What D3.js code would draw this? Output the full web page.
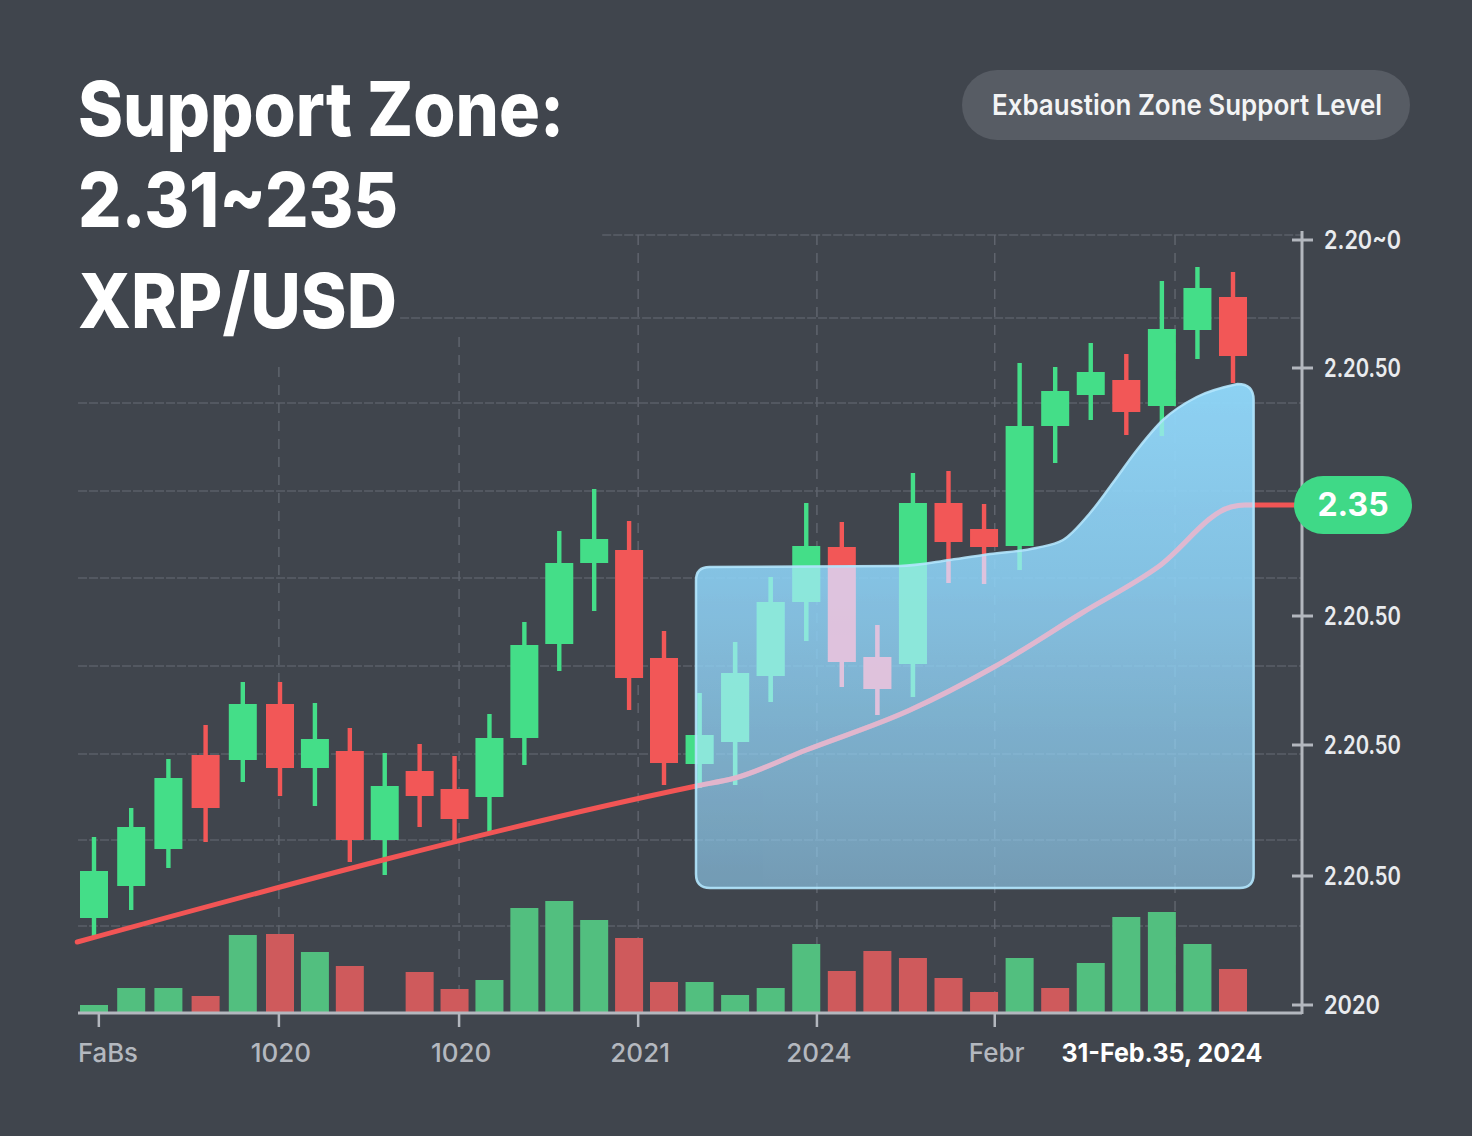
<!DOCTYPE html>
<html><head><meta charset="utf-8">
<script src="https://cdn.jsdelivr.net/npm/d3@7"></script>
<style>
html,body{margin:0;padding:0;background:#40454d;}
svg{display:block;}
text{font-family:Inter,"Noto Sans",sans-serif;}
</style></head><body>
<svg id="chart" width="1472" height="1136"></svg>
<script>
// ---------- data ----------
const titleLines = ["Support Zone:", "2.31~235", "XRP/USD"];
const badgeLabel = "Exbaustion Zone Support Level";
const priceTagLabel = "2.35";
const priceTagValue = 2.35;

const candleOpen  = [2.1435,2.1595,2.178,2.225,2.2225,2.2505,2.2185,2.227,2.1825,2.217,2.208,2.204,2.2335,2.2805,2.321,2.3275,2.2735,2.2205,2.2315,2.2645,2.3015,2.329,2.274,2.2705,2.351,2.338,2.3295,2.3895,2.405,2.4125,2.3995,2.4375,2.454];
const candleClose = [2.167,2.189,2.2135,2.1985,2.2505,2.2185,2.233,2.1825,2.2095,2.2045,2.193,2.2335,2.28,2.321,2.333,2.2635,2.221,2.235,2.266,2.3015,2.3295,2.2715,2.258,2.351,2.3315,2.329,2.3895,2.407,2.4165,2.3965,2.438,2.4585,2.4245];
const candleHigh  = [2.184,2.1985,2.223,2.24,2.2615,2.2615,2.251,2.2385,2.226,2.2305,2.2245,2.2455,2.2915,2.337,2.358,2.342,2.287,2.256,2.2815,2.314,2.351,2.3415,2.29,2.366,2.367,2.3505,2.421,2.419,2.431,2.4255,2.462,2.469,2.4665];
const candleLow   = [2.134,2.1475,2.1685,2.1815,2.2115,2.2045,2.1995,2.1715,2.165,2.189,2.1805,2.186,2.22,2.267,2.297,2.2475,2.21,2.2085,2.21,2.2515,2.282,2.259,2.245,2.254,2.311,2.3105,2.3175,2.371,2.3925,2.385,2.3845,2.423,2.411];

const volumes  = [7,24,24,16,77,78,60,46,0,40,23,32,104,111,92,74,30,30,17,24,68,41,61,54,34,20,54,24,49,95,100,68,43];
const volumeUp = [1,1,1,0,1,0,1,0,1,0,0,1,1,1,1,0,0,1,1,1,1,0,0,0,0,0,1,0,1,1,1,1,0];

const yTickValues = [2.4825,2.4185,2.2945,2.23,2.1645,2.10];
const yTickLabels = ["2.20~0","2.20.50","2.20.50","2.20.50","2.20.50","2020"];
const gridPrices  = [2.485,2.4435,2.401,2.357,2.3135,2.2695,2.2255,2.1825,2.1395];
const gridStartIdx = [14.23,8.44,-0.43,-0.43,-0.43,-0.43,-0.43,-0.43,-0.43];

const xTickIdx    = [0.13,4.97,10.13,15.26,20.3,25.3];
const xTickLabels = ["FaBs","1020","1020","2021","2024","Febr"];
const xGridIdx    = [4.97,10.13,15.26,20.3,25.3,30.37];
const xGridTop    = [2.419,2.434,2.485,2.485,2.485,2.485];
const dateLabel = "31-Feb.35, 2024";
const dateLabelIdx = 30.0;

const supportIdx   = [-0.45,16.91,18.0,20.0,22.92,25.28,27.75,29.89,31.94,32.33,33.88];
const supportPrice = [2.1315,2.2095,2.2135,2.2275,2.2475,2.269,2.296,2.319,2.349,2.35,2.35];

const zoneTopIdx   = [17.28,22.64,24.04,25.17,26.46,27.22,27.98,28.62,29.30,30.03,30.98,32.13];
const zoneTopPrice = [2.319,2.3195,2.3225,2.3255,2.3285,2.3325,2.346,2.361,2.3775,2.3925,2.404,2.4105];
const zoneLeftIdx = 16.9, zoneRightIdx = 32.58, zoneBottomPrice = 2.1585;

// ---------- setup ----------
const svg = d3.select('#chart');
const x = d3.scaleLinear().domain([0,5,16,32]).range([94,280,664,1233]);
const y = d3.scaleLinear().domain([2.096,2.486]).range([1013,233]);
const v = d3.scaleLinear().domain([0,100]).range([1012,912]);
const plotLeft = 78, plotRight = 1302;

const C = {bg:'#40454d', up:'#44de88', down:'#f25757', vUp:'#52bf7f', vDown:'#cf5a5c',
  upT:'#8eead9', downT:'#e8c3dd', axis:'#b3b7be', label:'#b4b8bf'};

svg.append('rect').attr('width',1472).attr('height',1136).attr('fill',C.bg);

const defs = svg.append('defs');
const grad = defs.append('linearGradient').attr('id','zoneGrad')
  .attr('gradientUnits','userSpaceOnUse').attr('x1',0).attr('x2',0).attr('y1',380).attr('y2',890);
grad.append('stop').attr('offset','0').attr('stop-color','rgb(145,216,250)').attr('stop-opacity',0.96);
grad.append('stop').attr('offset','0.4').attr('stop-color','rgb(142,210,246)').attr('stop-opacity',0.88);
grad.append('stop').attr('offset','1').attr('stop-color','rgb(150,212,248)').attr('stop-opacity',0.6);

// gridlines
const grid = svg.append('g');
grid.selectAll('line.h').data(gridPrices).join('line')
  .attr('x1',(d,i)=>x(gridStartIdx[i])).attr('x2',plotRight)
  .attr('y1',d=>y(d)).attr('y2',d=>y(d))
  .attr('stroke','#5a5f68').attr('stroke-width',1.5).attr('stroke-dasharray','9 2');
grid.selectAll('line.v').data(xGridIdx).join('line')
  .attr('x1',d=>x(d)).attr('x2',d=>x(d)).attr('y1',(d,i)=>y(xGridTop[i])).attr('y2',1012)
  .attr('stroke','#5f646d').attr('stroke-width',1.5).attr('stroke-dasharray','10 8');

// volume
svg.append('g').selectAll('rect').data(volumes).join('rect')
  .attr('x',(d,i)=>x(i)-14).attr('width',28)
  .attr('y',d=>v(d)).attr('height',d=>v(0)-v(d))
  .attr('fill',(d,i)=>volumeUp[i]?C.vUp:C.vDown);

const candles = candleOpen.map((o,i)=>({i,o,c:candleClose[i],h:candleHigh[i],l:candleLow[i]}));
function drawCandles(g, up, down){
  g.selectAll('rect.w').data(candles).join('rect').attr('class','w')
    .attr('x',d=>x(d.i)-2.2).attr('width',4.4)
    .attr('y',d=>y(d.h)).attr('height',d=>y(d.l)-y(d.h))
    .attr('fill',d=>d.c>=d.o?up:down);
  g.selectAll('rect.b').data(candles).join('rect').attr('class','b')
    .attr('x',d=>x(d.i)-14).attr('width',28)
    .attr('y',d=>y(Math.max(d.o,d.c))).attr('height',d=>Math.max(2,Math.abs(y(d.o)-y(d.c))))
    .attr('fill',d=>d.c>=d.o?up:down);
}
drawCandles(svg.append('g'), C.up, C.down);

const supportPts = supportIdx.map((d,k)=>[x(d),y(supportPrice[k])]);
const supportPath = d3.line().curve(d3.curveMonotoneX)(supportPts);
svg.append('path').attr('d',supportPath).attr('fill','none')
  .attr('stroke','#f25555').attr('stroke-width',5).attr('stroke-linecap','round');

// zone
const zx0 = x(zoneLeftIdx), zx1 = x(zoneRightIdx), zyB = y(zoneBottomPrice), r = 14;
const topPts = zoneTopIdx.map((d,k)=>[x(d),y(zoneTopPrice[k])]);
const f = topPts[0], l = topPts[topPts.length-1];
const topLine = d3.line().curve(d3.curveMonotoneX)(topPts);
const zonePath = `M${zx0},${zyB-r} L${zx0},${f[1]+(f[0]-zx0)} Q${zx0},${f[1]} ${f[0]},${f[1]} `
  + topLine.replace(/^M/,'L')
  + ` Q${zx1},${l[1]} ${zx1},${l[1]+(zx1-l[0])} L${zx1},${zyB-r} Q${zx1},${zyB} ${zx1-r},${zyB} L${zx0+r},${zyB} Q${zx0},${zyB} ${zx0},${zyB-r} Z`;
defs.append('clipPath').attr('id','zoneClip').append('path').attr('d',zonePath);
svg.append('path').attr('d',zonePath).attr('fill','url(#zoneGrad)');
const tint = svg.append('g').attr('clip-path','url(#zoneClip)').attr('opacity',0.88);
drawCandles(tint, C.upT, C.downT);
tint.append('path').attr('d',supportPath).attr('fill','none').attr('stroke','#e9b7cd').attr('stroke-width',5);
svg.append('path').attr('d',zonePath).attr('fill','none')
  .attr('stroke','#b2e6fd').attr('stroke-width',2.5).attr('opacity',0.9);

// x axis
svg.append('line').attr('x1',plotLeft).attr('x2',plotRight).attr('y1',1013).attr('y2',1013)
  .attr('stroke',C.axis).attr('stroke-width',3);
svg.append('g').selectAll('line').data(xTickIdx).join('line')
  .attr('x1',d=>x(d)).attr('x2',d=>x(d)).attr('y1',1013).attr('y2',1027)
  .attr('stroke',C.axis).attr('stroke-width',2.5);
svg.append('g').selectAll('text').data(xTickLabels).join('text')
  .attr('x',(d,i)=>i===0?plotLeft:x(xTickIdx[i])+2).attr('y',1062)
  .attr('text-anchor',(d,i)=>i===0?'start':'middle')
  .attr('font-size',26).attr('font-weight',500).attr('fill',C.label)
  .attr('textLength',(d,i)=>i===0?60:null).attr('lengthAdjust','spacingAndGlyphs')
  .text(d=>d);
svg.append('text').attr('x',x(dateLabelIdx)).attr('y',1062).attr('text-anchor','middle')
  .attr('font-size',26).attr('font-weight',700).attr('fill','#ffffff')
  .attr('textLength',201).attr('lengthAdjust','spacingAndGlyphs').text(dateLabel);

// y axis (right)
svg.append('line').attr('x1',plotRight).attr('x2',plotRight).attr('y1',231).attr('y2',1014)
  .attr('stroke',C.axis).attr('stroke-width',3);
svg.append('g').selectAll('line').data(yTickValues).join('line')
  .attr('x1',plotRight-10).attr('x2',plotRight+11).attr('y1',d=>y(d)).attr('y2',d=>y(d))
  .attr('stroke',C.axis).attr('stroke-width',3);
svg.append('g').selectAll('text').data(yTickValues).join('text')
  .attr('x',plotRight+22).attr('y',d=>y(d)+9)
  .attr('font-size',26).attr('font-weight',600).attr('fill','#e9ebee')
  .attr('textLength',(d,i)=>yTickLabels[i].length>=6?77:56).attr('lengthAdjust','spacingAndGlyphs')
  .text((d,i)=>yTickLabels[i]);

// price tag
const tagY = y(priceTagValue);
svg.append('rect').attr('x',plotRight-8).attr('y',tagY-29).attr('width',118).attr('height',58).attr('rx',29)
  .attr('fill','#3fd987');
svg.append('text').attr('x',plotRight+51).attr('y',tagY+11).attr('text-anchor','middle')
  .attr('font-size',32).attr('font-weight',700).attr('fill','#ffffff').text(priceTagLabel);

// title
const titleBase = [136,227,328], titleW = [486,320,319];
svg.append('g').selectAll('text').data(titleLines).join('text')
  .attr('x',78).attr('y',(d,i)=>titleBase[i])
  .attr('font-size',76).attr('font-weight',800).attr('fill','#ffffff')
  .attr('textLength',(d,i)=>titleW[i]).attr('lengthAdjust','spacingAndGlyphs')
  .text(d=>d);

// badge
svg.append('rect').attr('x',962).attr('y',70).attr('width',448).attr('height',70).attr('rx',35)
  .attr('fill','#575c64');
svg.append('text').attr('x',1187).attr('y',115).attr('text-anchor','middle')
  .attr('font-size',29).attr('font-weight',600).attr('fill','#f3f4f5')
  .attr('textLength',390).attr('lengthAdjust','spacingAndGlyphs').text(badgeLabel);
</script>
</body></html>
